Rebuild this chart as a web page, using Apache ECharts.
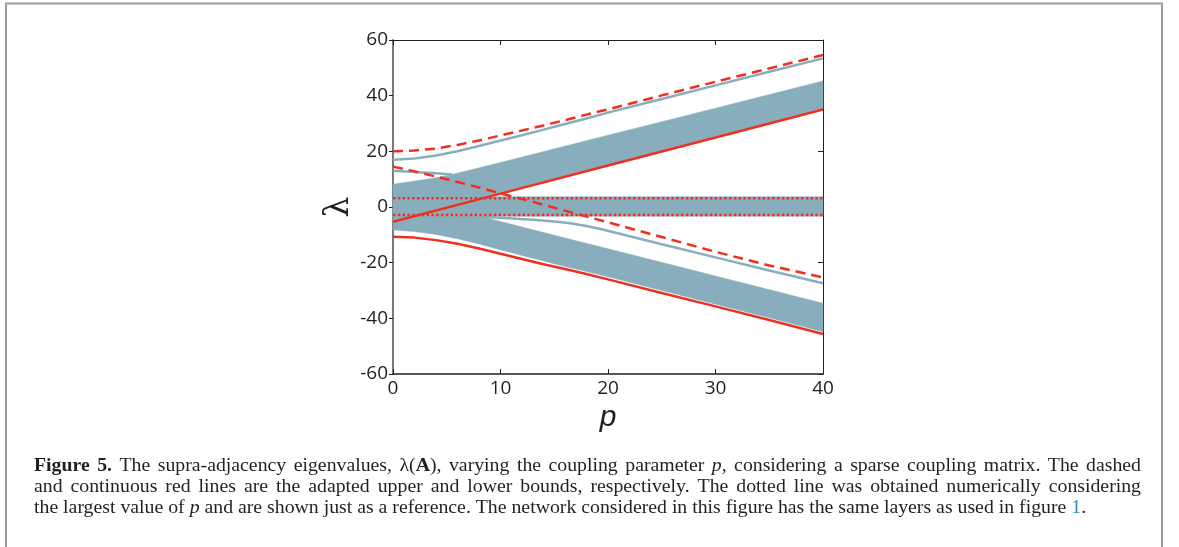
<!DOCTYPE html>
<html>
<head>
<meta charset="utf-8">
<script src="https://cdn.jsdelivr.net/npm/echarts@6/dist/echarts.min.js"></script>
<style>
html,body{margin:0;padding:0;background:#fff;}
#chart{width:1179px;height:547px;}
</style>
</head>
<body>
<div id="chart"></div>
<script>
// ---------- data ----------
const xTicks = [0, 10, 20, 30, 40];
const yTicks = [-60, -40, -20, 0, 20, 40, 60];

// upper adapted bound (dashed red, rising)
const upperDashed = [[0,20],[2,20.3],[4,21.0],[6,22.3],[8,23.9],[10,25.7],[12,27.5],[14,29.3],[16,31.2],[18,33.2],[20,35.1],[25,40.1],[30,45.0],[35,49.8],[40,54.6]];
// upper adapted bound (dashed red, falling)
const lowerDashed = [[0,14.5],[2,12.8],[4,10.9],[6,9.0],[8,7.0],[10,4.9],[12,2.9],[14,0.8],[16,-1.3],[18,-3.4],[20,-5.5],[25,-10.8],[30,-16.1],[35,-21.0],[40,-25.3]];
// lower adapted bound (solid red, rising)
const redRising = [[0,-5.3],[10,4.8],[20,14.9],[30,25.0],[40,35.0]];
// lower adapted bound (solid red, falling)
const redFalling = [[0,-10.7],[2,-11.0],[4,-11.9],[6,-13.2],[8,-14.9],[10,-16.8],[12,-18.7],[14,-20.6],[16,-22.3],[18,-24.1],[20,-26.0],[25,-30.9],[30,-35.7],[35,-40.6],[40,-45.6]];
// isolated eigenvalue curves (blue lines)
const eigTop = [[0,17],[2,17.4],[4,18.5],[6,20.0],[8,21.9],[10,23.9],[12,25.8],[14,27.8],[16,29.8],[18,31.8],[20,33.9],[25,38.8],[30,43.7],[35,48.6],[40,53.4]];
const eigShort = [[0,13.0],[2,12.6],[4,12.1],[5.5,11.7]];
const eigLow = [[6,-3.2],[10,-3.9],[13,-4.6],[15,-5.2],[16.5,-5.8],[18,-6.8],[19.5,-8.1],[21,-9.5],[25,-13.4],[30,-18.1],[35,-22.8],[40,-27.4]];
// eigenvalue bands (top edge / bottom edge)
const bandUpTop = [[0,8.2],[2,9.3],[4,10.5],[5.5,11.7],[10,16.0],[20,25.8],[30,35.5],[40,45.3]];
const bandUpBottom = [[0,-5.0],[10,5.1],[20,15.2],[30,25.3],[40,35.3]];
const bandMidTop = [[0,3.7],[40,3.7]];
const bandMidBottom = [[0,-3.3],[40,-3.3]];
const bandLowTop = [[0,-3.0],[7.7,-3.0],[10,-5.2],[17.4,-12.5],[20,-15.0],[30,-24.8],[40,-34.6]];
const bandLowBottom = [[0,-8.3],[2,-8.8],[4,-9.9],[6,-11.4],[8,-13.3],[10,-15.4],[12,-17.4],[14,-19.4],[16,-21.4],[18,-23.2],[20,-25.1],[25,-30.0],[30,-34.9],[35,-39.8],[40,-44.8]];
// numerical reference (dotted)
const dottedHigh = [[0,3.1],[40,3.1]];
const dottedLow = [[0,-2.9],[40,-2.9]];

const captionLines = [
  "[b]Figure 5.[/b] The supra-adjacency eigenvalues, λ([b]A[/b]), varying the coupling parameter [i]p[/i], considering a sparse coupling matrix. The dashed",
  "and continuous red lines are the adapted upper and lower bounds, respectively. The dotted line was obtained numerically considering",
  "the largest value of [i]p[/i] and are shown just as a reference. The network considered in this figure has the same layers as used in figure [c]1[/c]."
];

// ---------- styles ----------
const BAND = '#88aebe';
const RED = '#f0301f';
const TXT = '#231f20';
const AX_FONT = '"Open Sans", "Liberation Sans", sans-serif';
const CAP_FONT = '"Liberation Serif", "DejaVu Serif", serif';
const CAP_SIZE = 19.8;

const chart = echarts.init(document.getElementById('chart'), null, {renderer:'canvas'});

function bandSeries(top, bottom) {
  return {
    type: 'custom',
    coordinateSystem: 'cartesian2d',
    xAxisIndex: 0, yAxisIndex: 0,
    silent: true,
    z: 1,
    data: [[0, 0]],
    renderItem: function (params, api) {
      const pts = top.map(d => api.coord(d)).concat(bottom.slice().reverse().map(d => api.coord(d)));
      return {type: 'polygon', shape: {points: pts}, style: {fill: BAND, stroke: BAND, lineWidth: 0.5}};
    }
  };
}
function lineSeries(data, color, width, type, z) {
  return {
    type: 'line', data: data, showSymbol: false, symbol: 'none', silent: true,
    smooth: false, z: z,
    lineStyle: {color: color, width: width, type: type || 'solid', cap: 'butt', join: 'round'}
  };
}

// ---------- caption (justified words) ----------
const measureCtx = document.createElement('canvas').getContext('2d');
function fontOf(style) {
  return (style === 'i' ? 'italic ' : 'normal ') + (style === 'b' ? 'bold ' : 'normal ') + CAP_SIZE + 'px ' + CAP_FONT;
}
function parseLine(str) {
  const segs = [];
  const re = /\[(b|i|c)\](.*?)\[\/\1\]|([^\[]+)/g;
  let m;
  while ((m = re.exec(str)) !== null) {
    if (m[1]) segs.push({t: m[2], s: m[1]}); else segs.push({t: m[3], s: 'n'});
  }
  const words = [[]];
  segs.forEach(sg => {
    const parts = sg.t.split(' ');
    parts.forEach((p, i) => {
      if (i > 0) words.push([]);
      if (p.length) words[words.length - 1].push({t: p, s: sg.s});
    });
  });
  return words.filter(w => w.length);
}
function captionGraphics() {
  const left = 34, right = 1141;
  const ys = [466, 487, 508];
  const out = [];
  captionLines.forEach((line, li) => {
    const words = parseLine(line);
    const widths = words.map(w => w.reduce((a, sg) => { measureCtx.font = fontOf(sg.s); return a + measureCtx.measureText(sg.t).width; }, 0));
    const total = widths.reduce((a, b) => a + b, 0);
    measureCtx.font = fontOf('n');
    const normalGap = measureCtx.measureText(' ').width;
    const justify = li < captionLines.length - 1;
    const gap = justify ? (right - left - total) / (words.length - 1) : normalGap;
    let x = left;
    words.forEach((w, wi) => {
      let sx = x;
      w.forEach(sg => {
        measureCtx.font = fontOf(sg.s);
        out.push({
          type: 'text', silent: true, x: sx, y: ys[li],
          style: {
            text: sg.t, fill: sg.s === 'c' ? '#2f8ec4' : TXT,
            fontSize: CAP_SIZE, fontFamily: CAP_FONT,
            fontWeight: sg.s === 'b' ? 'bold' : 'normal',
            fontStyle: sg.s === 'i' ? 'italic' : 'normal',
            verticalAlign: 'middle', align: 'left'
          }
        });
        sx += measureCtx.measureText(sg.t).width;
      });
      x += widths[wi] + gap;
    });
  });
  return out;
}

const option = {
  backgroundColor: '#ffffff',
  animation: false,
  grid: {left: 393, right: 356, top: 40, bottom: 173, containLabel: false},
  xAxis: [
    {
      type: 'value', min: xTicks[0], max: xTicks[xTicks.length - 1], interval: 10, position: 'bottom',
      name: 'p', nameLocation: 'middle', nameGap: 18,
      nameTextStyle: {fontFamily: '"Liberation Sans", "DejaVu Sans", sans-serif', fontStyle: 'italic', fontSize: 30, color: TXT},
      axisLine: {show: true, onZero: false, lineStyle: {color: '#231f20', width: 1.5}},
      axisTick: {show: true, inside: true, length: 5, lineStyle: {color: '#231f20', width: 1}},
      axisLabel: {fontFamily: AX_FONT, fontSize: 19, color: TXT, margin: 5},
      splitLine: {show: false}
    },
    {
      type: 'value', min: 0, max: 40, interval: 10, position: 'top',
      axisLine: {show: true, onZero: false, lineStyle: {color: '#231f20', width: 1}},
      axisTick: {show: true, inside: true, length: 5, lineStyle: {color: '#231f20', width: 1}},
      axisLabel: {show: false}, splitLine: {show: false}
    }
  ],
  yAxis: [
    {
      type: 'value', min: yTicks[0], max: yTicks[yTicks.length - 1], interval: 20, position: 'left',
      name: 'λ', nameLocation: 'middle', nameGap: 35, nameRotate: 90,
      nameTextStyle: {fontFamily: '"DejaVu Serif", serif', fontSize: 33, color: TXT},
      axisLine: {show: true, onZero: false, lineStyle: {color: '#7a7a7a', width: 2}},
      axisTick: {show: true, inside: false, length: 4, lineStyle: {color: '#231f20', width: 1}},
      axisLabel: {fontFamily: AX_FONT, fontSize: 19, color: TXT, margin: 5},
      splitLine: {show: false}
    },
    {
      type: 'value', min: -60, max: 60, interval: 40, position: 'right',
      axisLine: {show: true, onZero: false, lineStyle: {color: '#231f20', width: 1}},
      axisTick: {show: true, inside: true, length: 5, lineStyle: {color: '#231f20', width: 1}},
      axisLabel: {show: false}, splitLine: {show: false}
    }
  ],
  series: [
    bandSeries(bandUpTop, bandUpBottom),
    bandSeries(bandMidTop, bandMidBottom),
    bandSeries(bandLowTop, bandLowBottom),
    lineSeries(eigTop, BAND, 2.5, 'solid', 3),
    lineSeries(eigShort, BAND, 2.5, 'solid', 3),
    lineSeries(eigLow, BAND, 2.5, 'solid', 3),
    lineSeries(redRising, RED, 2.5, 'solid', 4),
    lineSeries(redFalling, RED, 2.5, 'solid', 4),
    lineSeries(upperDashed, RED, 2.5, [10, 6], 4),
    lineSeries(lowerDashed, RED, 2.5, [10, 6], 4),
    lineSeries(dottedHigh, RED, 2.5, [2.4, 2.4], 5),
    lineSeries(dottedLow, RED, 2.5, [2.4, 2.4], 5)
  ],
  graphic: [
    {
      type: 'polyline', silent: true,
      shape: {points: [[6, 560], [6, 3.5], [1162, 3.5], [1162, 560]]},
      style: {stroke: '#9c9c9c', lineWidth: 2, fill: null}
    }
  ].concat(captionGraphics())
};
chart.setOption(option);
</script>
</body>
</html>
